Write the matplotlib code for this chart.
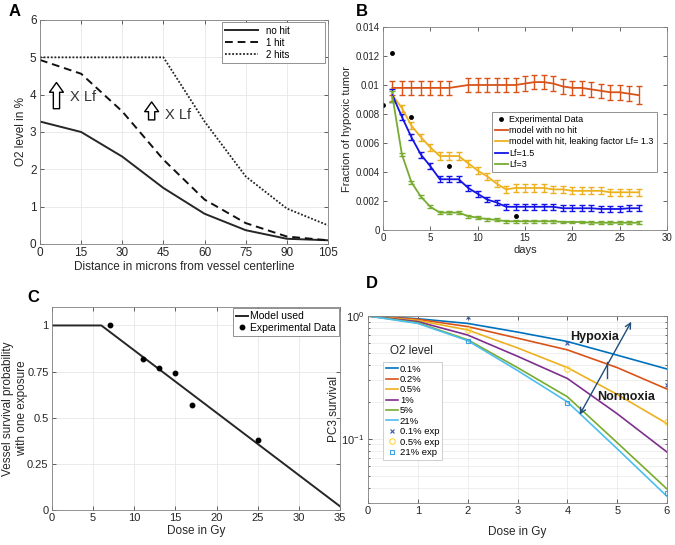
import matplotlib
matplotlib.use("Agg")
import matplotlib.pyplot as plt

plt.rcParams['font.family'] = ['Liberation Sans', 'DejaVu Sans']

# ---- A: O2 level vs distance
distance = [0, 15, 30, 45, 60, 75, 90, 105]
o2_no_hit = [3.28, 3.0, 2.34, 1.5, 0.81, 0.37, 0.14, 0.1]
o2_one_hit = [4.93, 4.56, 3.55, 2.26, 1.19, 0.56, 0.2, 0.1]
o2_two_hits = [5.0, 5.0, 5.0, 5.0, 3.28, 1.81, 0.95, 0.5]

# ---- B: fraction of hypoxic tumor over days
days_nohit = [1, 2, 3, 4, 5, 6, 7, 9, 10, 11, 12, 13, 14, 15, 16, 17, 18, 19, 20, 21, 22, 23, 24, 25, 26, 27]
frac_nohit = [0.0098, 0.0098, 0.0098, 0.0098, 0.0098, 0.0098, 0.0098, 0.0100, 0.0100, 0.0100, 0.0100,
              0.0100, 0.0100, 0.0101, 0.0102, 0.0102, 0.0101, 0.0099, 0.0098, 0.0098, 0.0097, 0.0096,
              0.0095, 0.0095, 0.0094, 0.0093]
err_nohit = [0.0005] * 25 + [0.0006]
days = list(range(1, 28))
frac_lf13 = [0.0093, 0.0084, 0.0072, 0.0064, 0.0057, 0.0051, 0.0051, 0.0051, 0.0046, 0.0041, 0.0037,
             0.0032, 0.0028, 0.0029, 0.0029, 0.0029, 0.0029, 0.0028, 0.0028, 0.0027, 0.0027, 0.0027,
             0.0027, 0.0026, 0.0026, 0.0026, 0.0026]
err_lf13 = [0.0004] + [0.00025] * 26
frac_lf15 = [0.0093, 0.0078, 0.0064, 0.0052, 0.0044, 0.0035, 0.0035, 0.0035, 0.0029, 0.0025, 0.0021,
             0.0019, 0.0016, 0.0016, 0.0016, 0.0016, 0.0016, 0.0016, 0.0015, 0.0015, 0.0015, 0.0015,
             0.00145, 0.00145, 0.00145, 0.0015, 0.0015]
err_lf15 = [0.00045] + [0.0002] * 26
frac_lf3 = [0.0092, 0.0052, 0.0033, 0.0023, 0.0016, 0.0012, 0.0012, 0.0012, 0.00095, 0.00085, 0.00075,
            0.0007, 0.0006, 0.0006, 0.0006, 0.0006, 0.0006, 0.0006, 0.00055, 0.00055, 0.00055, 0.0005,
            0.0005, 0.0005, 0.0005, 0.0005, 0.0005]
err_lf3 = [0.0004] + [0.0001] * 26
exp_days = [0, 1, 3, 7, 14]
exp_frac = [0.0086, 0.0122, 0.0078, 0.0044, 0.0010]

# ---- C: vessel survival
model_dose = [0, 6, 35]
model_surv = [1.0, 1.0, 0.02]
vessel_dose = [7, 11, 13, 15, 17, 25]
vessel_surv = [1.0, 0.82, 0.77, 0.74, 0.57, 0.38]

# ---- D: PC3 survival
dose = [0, 1, 2, 3, 4, 5, 6]
o2_levels = ['0.1%', '0.2%', '0.5%', '1%', '5%', '21%']
pc3 = [
    [1.0, 0.95, 0.87, 0.74, 0.62, 0.48, 0.37],
    [1.0, 0.94, 0.82, 0.66, 0.53, 0.38, 0.254],
    [1.0, 0.92, 0.77, 0.55, 0.38, 0.23, 0.133],
    [1.0, 0.90, 0.70, 0.47, 0.31, 0.16, 0.078],
    [1.0, 0.88, 0.64, 0.38, 0.22, 0.093, 0.039],
    [1.0, 0.87, 0.63, 0.36, 0.20, 0.083, 0.034],
]
exp_dose = [2, 4, 6]
exp_01 = [0.99, 0.60, 0.275]
exp_05 = [0.77, 0.37, 0.136]
exp_21 = [0.63, 0.196, 0.0365]

mcol = ['#0072BD', '#D95319', '#EDB120', '#7E2F8E', '#77AC30', '#4DBEEE']
W, H = 675, 545


def box(x0, y0, x1, y1):
    return [x0 / W, 1 - y1 / H, (x1 - x0) / W, (y1 - y0) / H]


def style(ax, fs):
    ax.tick_params(direction='in', top=True, right=True, labelsize=fs, colors='#262626',
                   length=3, width=0.5, pad=2.5)
    for s in ax.spines.values():
        s.set_color('#808080')
        s.set_linewidth(0.6)


def frame(leg):
    leg.get_frame().set_linewidth(0.6)


fig = plt.figure(figsize=(6.75, 5.45), dpi=100)

# A
ax = fig.add_axes(box(40, 20, 328, 244))
ax.plot(distance, o2_no_hit, color='#262626', lw=1.4, label='no hit')
ax.plot(distance, o2_one_hit, color='#111111', lw=1.4, ls=(0, (4, 2.5)), label='1 hit')
ax.plot(distance, o2_two_hits, color='#222222', lw=1.3, ls=(0, (1, 1)), label='2 hits')
ax.set_xlim(0, 105)
ax.set_ylim(0, 6)
ax.set_xticks(distance)
ax.grid(color='#e6e6e6', lw=0.6)
ax.set_axisbelow(True)
style(ax, 8.5)
ax.set_xlabel('Distance in microns from vessel centerline', fontsize=8.5, color='#262626', labelpad=1)
ax.set_ylabel('O2 level in %', fontsize=8.5, color='#262626', labelpad=2)
leg = ax.legend(loc='upper left', bbox_to_anchor=(0.632, 0.99, 0.358, 0), mode='expand',
                fontsize=7, handlelength=3.4, borderaxespad=0, borderpad=0.35,
                fancybox=False, edgecolor='#808080', framealpha=1, labelspacing=0.2)
frame(leg)
arrow = dict(arrowstyle='simple,head_length=0.7,head_width=1.0,tail_width=0.45',
             fc='white', ec='black', lw=1.0, mutation_scale=10)
ax.annotate('', xy=(6, 4.4), xytext=(6, 3.55), arrowprops=arrow)
ax.annotate('', xy=(40.7, 3.88), xytext=(40.7, 3.25), arrowprops=arrow)
ax.text(11, 3.95, 'X Lf', fontsize=10.5, color='#333333', va='center')
ax.text(45.5, 3.45, 'X Lf', fontsize=10.5, color='#333333', va='center')

# B
ax = fig.add_axes(box(383, 27, 667, 230))
ekw = dict(lw=1.3, elinewidth=1.0, capsize=2.5, capthick=1.0)
ax.plot(exp_days, exp_frac, 'o', color='black', ms=2.5, label='Experimental Data')
ax.errorbar(days_nohit, frac_nohit, yerr=err_nohit, color=mcol[1], label='model with no hit', **ekw)
ax.errorbar(days, frac_lf13, yerr=err_lf13, color=mcol[2],
            label='model with hit, leaking factor Lf= 1.3', **ekw)
ax.errorbar(days, frac_lf15, yerr=err_lf15, color='#1414E6', label='Lf=1.5', **ekw)
ax.errorbar(days, frac_lf3, yerr=err_lf3, color=mcol[4], label='Lf=3', **ekw)
ax.set_xlim(0, 30)
ax.set_ylim(0, 0.014)
ax.set_yticks([0, 0.002, 0.004, 0.006, 0.008, 0.01, 0.012, 0.014])
ax.set_yticklabels(['0', '0.002', '0.004', '0.006', '0.008', '0.01', '0.012', '0.014'])
style(ax, 7)
ax.set_xlabel('days', fontsize=8, color='#262626', labelpad=1)
ax.set_ylabel('Fraction of hypoxic tumor', fontsize=8, color='#262626', labelpad=2)
h, l = ax.get_legend_handles_labels()
h = [hh.lines[0] if hasattr(hh, 'lines') else hh for hh in h]
leg = ax.legend(h, l, loc='upper left', bbox_to_anchor=(0.385, 0.58), fontsize=6.5,
                handlelength=1.4, handletextpad=0.2, borderaxespad=0, borderpad=0.3,
                fancybox=False, edgecolor='#808080', framealpha=1, labelspacing=0.25)
frame(leg)

# C
ax = fig.add_axes(box(52, 307, 340, 510))
ax.plot(model_dose, model_surv, color='#262626', lw=1.4, label='Model used')
ax.plot(vessel_dose, vessel_surv, 'o', color='black', ms=3.2, label='Experimental Data')
ax.set_xlim(0, 35)
ax.set_ylim(0, 1.1)
ax.set_xticks(range(0, 36, 5))
ax.set_yticks([0, 0.25, 0.5, 0.75, 1])
ax.set_yticklabels(['0', '0.25', '0.5', '0.75', '1'])
ax.grid(color='#e6e6e6', lw=0.6)
ax.set_axisbelow(True)
style(ax, 8)
ax.set_xlabel('Dose in Gy', fontsize=8.5, color='#262626', labelpad=1)
ax.set_ylabel('Vessel survival probability\nwith one exposure', fontsize=8.5, color='#262626',
              linespacing=1.15)
ax.yaxis.set_label_coords(-0.085, 0.5)
leg = ax.legend(loc='upper right', fontsize=7.5, handlelength=1.2, handletextpad=0.2,
                borderaxespad=0.1, borderpad=0.3, fancybox=False, edgecolor='#808080',
                framealpha=1, labelspacing=0.15)
frame(leg)

# D
ax = fig.add_axes(box(368, 316, 667, 503))
for vals, lab, c in zip(pc3, o2_levels, mcol):
    ax.plot(dose, vals, color=c, lw=1.2, label=lab)
ax.plot(exp_dose, exp_01, 'x', color='#3355AA', ms=3.5, mew=0.8, label='0.1% exp')
ax.plot(exp_dose, exp_05, 'o', mfc='none', mec='#FFD43B', ms=4, mew=0.8, label='0.5% exp')
ax.plot(exp_dose, exp_21, 's', mfc='none', mec='#3FA0E0', ms=3.5, mew=0.8, label='21% exp')
ax.set_yscale('log')
ax.set_xlim(0, 6)
ax.set_ylim(0.03, 1)
ax.set_xticks(range(0, 7))
ax.grid(which='both', color='#e8e8e8', lw=0.5)
ax.set_axisbelow(True)
style(ax, 8)
ax.tick_params(which='minor', direction='in', length=1.5, width=0.4, right=True)
ax.set_xlabel('Dose in Gy', fontsize=8.5, color='#262626', labelpad=7)
ax.set_ylabel('PC3 survival', fontsize=8.5, color='#262626', labelpad=1)
ax.text(0.44, 0.52, 'O2 level', fontsize=8.5, color='#262626', va='center')
leg = ax.legend(loc='upper left', bbox_to_anchor=(0.05, 0.755), fontsize=6.8,
                handlelength=1.3, handletextpad=0.2, borderaxespad=0, borderpad=0.3,
                fancybox=False, edgecolor='#c8c8c8', framealpha=1, labelspacing=0.15)
frame(leg)
ax.annotate('', xy=(4.22, 0.15), xytext=(5.31, 0.94),
            arrowprops=dict(arrowstyle='<->', color='#1F4E79', lw=1.0))
ax.plot([4.79, 4.79], [0.31, 0.42], color='#1F4E79', lw=1.0)
ax.text(4.06, 0.68, 'Hypoxia', fontsize=9, fontweight='bold', color='#1a1a1a', va='center')
ax.text(4.59, 0.22, 'Normoxia', fontsize=9, fontweight='bold', color='#1a1a1a', va='center')

# panel letters
for txt, px, py in [('A', 15, 11), ('B', 362, 12), ('C', 33, 297), ('D', 372, 283)]:
    fig.text(px / W, 1 - py / H, txt, fontsize=12, fontweight='bold', ha='center', va='center')

fig.savefig('out.png', dpi=100)
